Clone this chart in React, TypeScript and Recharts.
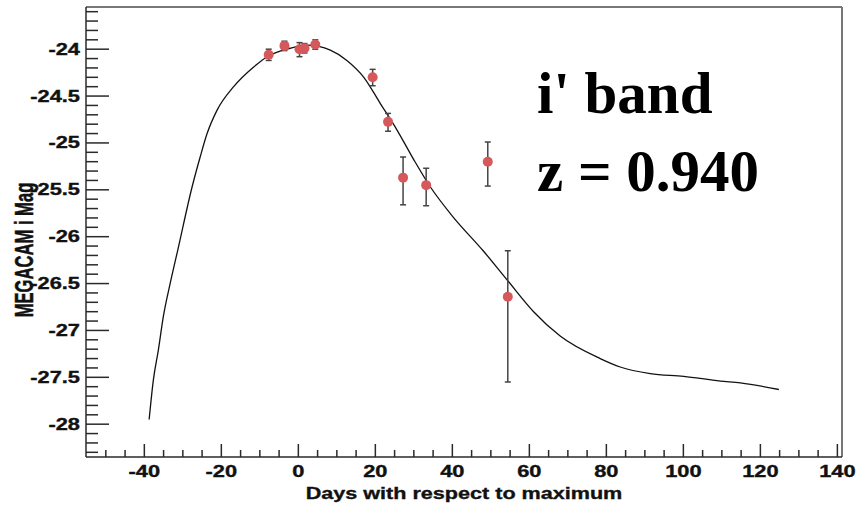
import React from "react";
import { ComposedChart, Line, Scatter, ErrorBar, XAxis, YAxis, ReferenceLine } from "recharts";

// Observed photometry (days w.r.t. maximum, magnitude, asymmetric errors)
const obsDays = [-7.7, -3.6, 0.3, 1.6, 4.4, 19.3, 23.3, 27.2, 33.2, 49.2, 54.4];
const obsMags = [-24.06, -23.965, -24.0, -23.99, -23.95, -24.3, -24.775, -25.37, -25.45, -25.2, -26.64];
const obsErrDown = [0.06, 0.05, 0.08, 0.05, 0.05, 0.09, 0.1, 0.29, 0.22, 0.26, 0.91];
const obsErrUp = [0.06, 0.05, 0.07, 0.05, 0.05, 0.085, 0.09, 0.22, 0.18, 0.21, 0.49];

// Template light curve
const curveDays = [
  -38.75, -37.66, -36.36, -35.06, -33.3, -31.3, -27.6, -25.5, -23.7, -21.1, -16.8, -11.6, -8.1, -2.1,
  2.3, 8.3, 12.6, 17.0, 21.3, 25.6, 30.0, 34.3, 40.0, 48.0, 54.4, 61.1, 68.0, 78.4, 83.6, 91.4,
  100.1, 109.6, 114.8, 124.8,
];
const curveMags = [
  -27.95, -27.53, -27.21, -26.85, -26.5, -26.14, -25.47, -25.15, -24.9, -24.65, -24.4, -24.19, -24.08,
  -23.99, -23.957, -24.01, -24.12, -24.3, -24.58, -24.86, -25.18, -25.47, -25.78, -26.15, -26.47,
  -26.8, -27.06, -27.3, -27.39, -27.46, -27.49, -27.54, -27.56, -27.63,
];

const xMajorTicks = [-40, -20, 0, 20, 40, 60, 80, 100, 120, 140];
const yMajorTicks = [-28, -27.5, -27, -26.5, -26, -25.5, -25, -24.5, -24];

const xDomain: [number, number] = [-55.15, 141.2];
const yDomain: [number, number] = [-28.35, -23.55];

const xTicks: number[] = [];
for (let i = -50; i <= 140; i += 5) xTicks.push(i);
const yTicks: number[] = [];
for (let i = -283; i <= -236; i += 1) yTicks.push(Math.round(i) / 10);

const points = obsDays.map((d, i) => ({
  x: d,
  y: obsMags[i],
  err: [obsErrDown[i], obsErrUp[i]],
}));
const curve = curveDays.map((d, i) => ({ x: d, y: curveMags[i] }));

const FONT = "'Liberation Sans', Arial, Helvetica, sans-serif";
const AX = "#2a2a2a";

const isYMajor = (v: number) => yMajorTicks.some((t) => Math.abs(t - v) < 1e-6);
const isXMajor = (v: number) => xMajorTicks.some((t) => Math.abs(t - v) < 1e-6);

const YTick = (props: any) => {
  const { x, y, payload } = props;
  const v = payload.value;
  const major = isYMajor(v);
  return (
    <g>
      <line x1={x} x2={x + (major ? 23 : 12)} y1={y} y2={y} stroke={AX} strokeWidth={1.5} />
      {major && (
        <text
          x={0}
          y={0}
          transform={`translate(${x - 6},${y + 5.5}) scale(1.38,1)`}
          textAnchor="end"
          fontFamily={FONT}
          fontWeight="bold"
          fontSize={15.8}
          fill="#111"
          stroke="#111"
          strokeWidth={0.35}
        >
          {String(v)}
        </text>
      )}
    </g>
  );
};

const XTick = (props: any) => {
  const { x, y, payload } = props;
  const v = payload.value;
  const major = isXMajor(v);
  return (
    <g>
      <line x1={x} x2={x} y1={y} y2={y - (major ? 13 : 7)} stroke={AX} strokeWidth={1.5} />
      {major && (
        <text
          x={0}
          y={0}
          transform={`translate(${x},${y + 20}) scale(1.38,1)`}
          textAnchor="middle"
          fontFamily={FONT}
          fontWeight="bold"
          fontSize={15.8}
          fill="#111"
          stroke="#111"
          strokeWidth={0.35}
        >
          {String(v)}
        </text>
      )}
    </g>
  );
};

const Dot = (props: any) => {
  const { cx, cy } = props;
  if (cx == null || cy == null) return null;
  return <circle cx={cx} cy={cy} r={5} fill="#d6585a" />;
};

export default function App() {
  return (
    <div style={{ position: "absolute", left: 0, top: 0, width: 858, height: 507, background: "#fff" }}>
      <ComposedChart width={858} height={507} margin={{ top: 7, right: 16, bottom: 0, left: 0 }}>
        <XAxis
          dataKey="x"
          type="number"
          domain={xDomain}
          ticks={xTicks}
          interval={0}
          allowDataOverflow
          height={50}
          tickSize={0}
          tickMargin={0}
          tickLine={false}
          axisLine={{ stroke: AX, strokeWidth: 1.5 }}
          tick={<XTick />}
        />
        <YAxis
          dataKey="y"
          type="number"
          domain={yDomain}
          ticks={yTicks}
          interval={0}
          allowDataOverflow
          width={86}
          tickSize={0}
          tickMargin={0}
          tickLine={false}
          axisLine={{ stroke: AX, strokeWidth: 1.5 }}
          tick={<YTick />}
        />
        <ReferenceLine y={yDomain[1]} stroke="#777" strokeWidth={2} ifOverflow="visible" />
        <ReferenceLine x={xDomain[1]} stroke="#777" strokeWidth={2} ifOverflow="visible" />
        <Line
          data={curve}
          dataKey="y"
          type="monotone"
          stroke="#111"
          strokeWidth={1.3}
          dot={false}
          activeDot={false}
          isAnimationActive={false}
        />
        <Scatter data={points} dataKey="y" shape={<Dot />} isAnimationActive={false}>
          <ErrorBar dataKey="err" direction="y" width={3} stroke="#444" strokeWidth={1.5} />
        </Scatter>
      </ComposedChart>
      <svg
        width={858}
        height={507}
        style={{ position: "absolute", left: 0, top: 0, pointerEvents: "none" }}
      >
        <text
          x={0}
          y={0}
          transform="translate(464,499) scale(1.27,1)"
          textAnchor="middle"
          fontFamily={FONT}
          fontWeight="bold"
          fontSize={17}
          fill="#111"
          stroke="#111"
          strokeWidth={0.35}
        >
          Days with respect to maximum
        </text>
        <text
          x={0}
          y={0}
          transform="translate(33,250) scale(1.5,1) rotate(-90)"
          textAnchor="middle"
          fontFamily={FONT}
          fontWeight="bold"
          fontSize={16.6}
          fill="#111"
          stroke="#111"
          strokeWidth={0.35}
        >
          MEGACAM i Mag
        </text>
        <text
          x={537}
          y={113}
          fontFamily="'Liberation Serif', 'Times New Roman', serif"
          fontWeight="bold"
          fontSize={59}
          fill="#000"
        >
          i' band
        </text>
        <text
          x={537}
          y={191}
          fontFamily="'Liberation Serif', 'Times New Roman', serif"
          fontWeight="bold"
          fontSize={59}
          fill="#000"
        >
          z = 0.940
        </text>
      </svg>
    </div>
  );
}
